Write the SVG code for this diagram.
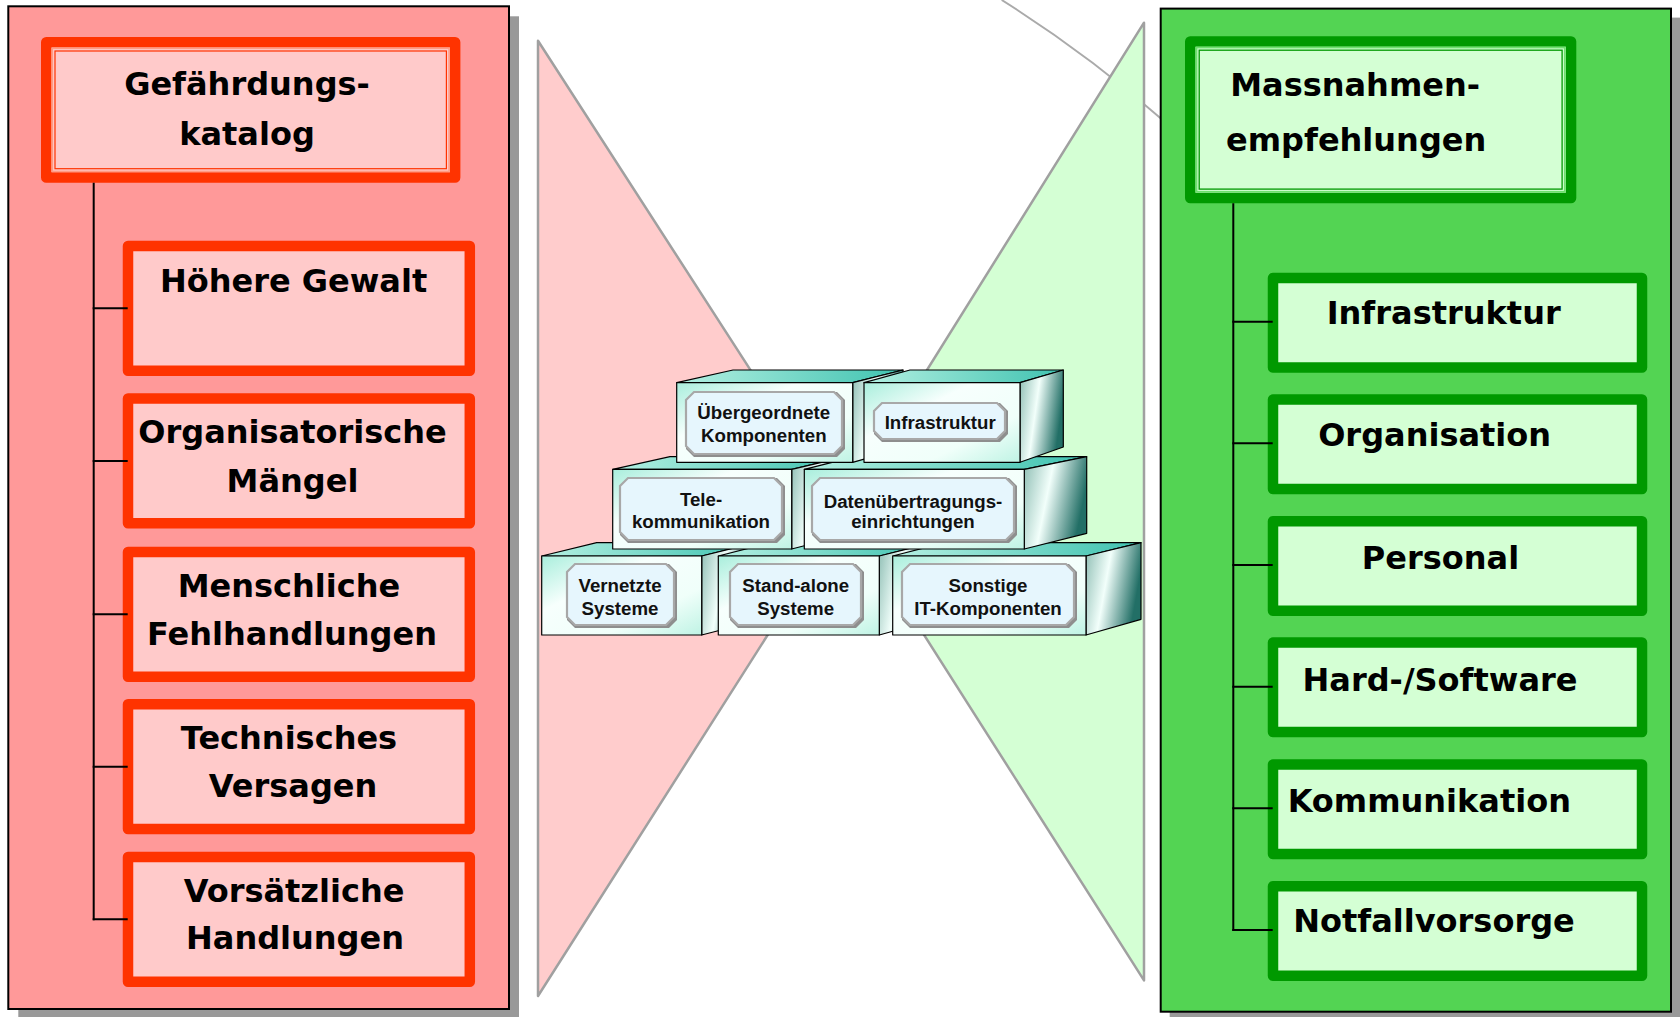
<svg xmlns="http://www.w3.org/2000/svg" width="1680" height="1017" viewBox="0 0 1680 1017">
<defs>
<style>
.big{font-family:"DejaVu Sans",Verdana,sans-serif;font-weight:bold;font-size:32px;fill:#000}
.small{font-family:"Liberation Sans",Arial,sans-serif;font-weight:bold;font-size:18.7px;fill:#111}
.redbox{fill:#FFCACA;stroke:#FF3300;stroke-width:10.5;stroke-linejoin:round}
.greenbox{fill:#D4FFD4;stroke:#009900;stroke-width:10.5;stroke-linejoin:round}
.conn{stroke:#000;stroke-width:2;fill:none}
.panel{stroke:#000;stroke-width:2}
.shadow{fill:#999}
.face{stroke:#000;stroke-width:1.2;stroke-linejoin:round}
.front{fill:url(#gFront)}
.top{fill:url(#gTop)}
.side{fill:url(#gSide)}
.lblsh{fill:#8E8E8E}
.lbl{fill:#E6F6FD;stroke:#A8A8A8;stroke-width:2.2}
</style>
<linearGradient id="gFront" x1="0" y1="0" x2="1" y2="1">
<stop offset="0" stop-color="#A9EEDC"/>
<stop offset="0.35" stop-color="#F7FFFD"/>
<stop offset="0.7" stop-color="#F0FFFA"/>
<stop offset="1" stop-color="#BFF3E4"/>
</linearGradient>
<linearGradient id="gTop" x1="0" y1="0" x2="1" y2="0">
<stop offset="0" stop-color="#B4F0E2"/>
<stop offset="1" stop-color="#3FC2B0"/>
</linearGradient>
<linearGradient id="gSide" x1="0" y1="0" x2="1" y2="0.3">
<stop offset="0" stop-color="#8DBDB3"/>
<stop offset="0.45" stop-color="#F2FFFB"/>
<stop offset="1" stop-color="#226F66"/>
</linearGradient>
</defs>
<rect width="1680" height="1017" fill="#FFFFFF"/>

<g id="background">
<polygon points="538,40.7 844,515 538,996" fill="#FFCCCC" stroke="#A0A0A0" stroke-width="2.5" stroke-linejoin="round"/>
<path d="M1001.7,0 A1272,1272 0 0 1 1165,122" fill="none" stroke="#AAAAAA" stroke-width="2"/>
<polygon points="1144,22.7 842,506 1144,980.4" fill="#D4FFD4" stroke="#A0A0A0" stroke-width="2.5" stroke-linejoin="round"/>
</g>

<g id="panel-left">
<rect class="shadow" x="18.3" y="16.3" width="500.7" height="1002.7"/>
<rect class="panel" x="8.3" y="6.3" width="500.7" height="1002.7" fill="#FF9999"/>
</g>

<g id="panel-right">
<rect class="shadow" x="1169.7" y="17.6" width="510.3" height="1003.1"/>
<rect class="panel" x="1160.7" y="8.6" width="510.3" height="1003.1" fill="#53D453"/>
</g>

<g id="node-gefaehrdungskatalog">
<rect class="redbox" x="46.25" y="42.25" width="408.9" height="135.2"/>
<rect x="52.3" y="48.3" width="396.8" height="123.1" fill="none" stroke="#FF9D85" stroke-width="1.6"/>
<rect x="55" y="51" width="391.4" height="117.7" fill="none" stroke="#FF3300" stroke-width="1.2"/>
<text class="big" x="247" y="94.7" text-anchor="middle">Gefährdungs-</text>
<text class="big" x="247" y="144.6" text-anchor="middle">katalog</text>
</g>

<g id="node-hoehere-gewalt">
<rect class="redbox" x="128" y="245.95" width="341.8" height="124.8"/>
<text class="big" x="293.6" y="291.7" text-anchor="middle">Höhere Gewalt</text>
</g>
<g id="node-organisatorische-maengel">
<rect class="redbox" x="128" y="398.55" width="341.8" height="124.8"/>
<text class="big" x="292.5" y="443.3" text-anchor="middle">Organisatorische</text>
<text class="big" x="292.5" y="491.7" text-anchor="middle">Mängel</text>
</g>
<g id="node-menschliche-fehlhandlungen">
<rect class="redbox" x="128" y="551.95" width="341.8" height="124.8"/>
<text class="big" x="289" y="597.3" text-anchor="middle">Menschliche</text>
<text class="big" x="292" y="645" text-anchor="middle">Fehlhandlungen</text>
</g>
<g id="node-technisches-versagen">
<rect class="redbox" x="128" y="704.25" width="341.8" height="124.8"/>
<text class="big" x="289" y="749.3" text-anchor="middle">Technisches</text>
<text class="big" x="293" y="796.7" text-anchor="middle">Versagen</text>
</g>
<g id="node-vorsaetzliche-handlungen">
<rect class="redbox" x="128" y="856.95" width="341.8" height="124.8"/>
<text class="big" x="294" y="902" text-anchor="middle">Vorsätzliche</text>
<text class="big" x="295" y="949.4" text-anchor="middle">Handlungen</text>
</g>

<g id="node-massnahmenempfehlungen">
<rect class="greenbox" x="1190.25" y="41.45" width="380.8" height="156.6"/>
<rect x="1196.5" y="47.5" width="368.3" height="144.3" fill="none" stroke="#6EE06E" stroke-width="1.8"/>
<rect x="1199.2" y="50.2" width="362.9" height="138.9" fill="none" stroke="#009900" stroke-width="1.3"/>
<text class="big" x="1230.2" y="95.5">Massnahmen-</text>
<text class="big" x="1226" y="150.5">empfehlungen</text>
</g>

<g id="node-infrastruktur">
<rect class="greenbox" x="1273" y="277.95" width="369" height="89.5"/>
<text class="big" x="1443.7" y="324" text-anchor="middle">Infrastruktur</text>
</g>
<g id="node-organisation">
<rect class="greenbox" x="1273" y="399.55" width="369" height="89.5"/>
<text class="big" x="1434.6" y="445.7" text-anchor="middle">Organisation</text>
</g>
<g id="node-personal">
<rect class="greenbox" x="1273" y="521.25" width="369" height="89.5"/>
<text class="big" x="1440.5" y="569" text-anchor="middle">Personal</text>
</g>
<g id="node-hard-software">
<rect class="greenbox" x="1273" y="642.55" width="369" height="89.5"/>
<text class="big" x="1440" y="690.7" text-anchor="middle">Hard-/Software</text>
</g>
<g id="node-kommunikation">
<rect class="greenbox" x="1273" y="764.55" width="369" height="89.5"/>
<text class="big" x="1429.3" y="811.7" text-anchor="middle">Kommunikation</text>
</g>
<g id="node-notfallvorsorge">
<rect class="greenbox" x="1273" y="886.25" width="369" height="89.5"/>
<text class="big" x="1434" y="932" text-anchor="middle">Notfallvorsorge</text>
</g>

<g id="connectors">
<path class="conn" d="M93.7,182.7 V920.3"/>
<path class="conn" d="M92.7,308.2 H127.7 M92.7,461 H127.7 M92.7,614.2 H127.7 M92.7,766.7 H127.7 M92.7,919.3 H127.7"/>
<path class="conn" d="M1233.3,203.3 V931"/>
<path class="conn" d="M1232.3,321.7 H1272.7 M1232.3,443.3 H1272.7 M1232.3,565 H1272.7 M1232.3,686.7 H1272.7 M1232.3,808.3 H1272.7 M1232.3,930 H1272.7"/>
</g>

<g id="it-components">
<g id="block-vernetzte-systeme">
<polygon class="face top" points="541.7,556 596.7,542.7 756,542.7 701.7,556"/>
<polygon class="face side" points="701.7,556 756,542.7 756,621 701.7,635"/>
<rect class="face front" x="541.7" y="556" width="160" height="79"/>
<polygon class="lblsh" points="575,564 669,564 677,572 677,620 669,628 575,628 567,620 567,572"/>
<polygon class="lbl" points="575,564 666,564 674,572 674,617 666,625 575,625 567,617 567,572"/>
<text class="small" x="620" y="592" text-anchor="middle">Vernetzte</text>
<text class="small" x="620" y="614.5" text-anchor="middle">Systeme</text>
</g>
<g id="block-stand-alone-systeme">
<polygon class="face top" points="718.3,556 771,542.7 933,542.7 879.3,556"/>
<polygon class="face side" points="879.3,556 933,542.7 933,620 879.3,635"/>
<rect class="face front" x="718.3" y="556" width="161" height="79"/>
<polygon class="lblsh" points="738,564 856,564 864,572 864,620 856,628 738,628 730,620 730,572"/>
<polygon class="lbl" points="738,564 853,564 861,572 861,617 853,625 738,625 730,617 730,572"/>
<text class="small" x="795.7" y="592" text-anchor="middle">Stand-alone</text>
<text class="small" x="795.7" y="614.5" text-anchor="middle">Systeme</text>
</g>
<g id="block-sonstige-it-komponenten">
<polygon class="face top" points="892.7,556 945,542.7 1141,542.7 1086,556"/>
<polygon class="face side" points="1086,556 1141,542.7 1141,619.3 1086,635"/>
<rect class="face front" x="892.7" y="556" width="193.3" height="79"/>
<polygon class="lblsh" points="910,564 1069,564 1077,572 1077,620 1069,628 910,628 902,620 902,572"/>
<polygon class="lbl" points="910,564 1066,564 1074,572 1074,617 1066,625 910,625 902,617 902,572"/>
<text class="small" x="988" y="592" text-anchor="middle">Sonstige</text>
<text class="small" x="988" y="614.5" text-anchor="middle">IT-Komponenten</text>
</g>
<g id="block-telekommunikation">
<polygon class="face top" points="612.7,469.3 670,456.7 846,456.7 791.7,469.3"/>
<polygon class="face side" points="791.7,469.3 846,456.7 846,535 791.7,549"/>
<rect class="face front" x="612.7" y="469.3" width="179" height="79.7"/>
<polygon class="lblsh" points="628,478 777,478 785,486 785,535 777,543 628,543 620,535 620,486"/>
<polygon class="lbl" points="628,478 774,478 782,486 782,532 774,540 628,540 620,532 620,486"/>
<text class="small" x="701" y="506" text-anchor="middle">Tele-</text>
<text class="small" x="701" y="528" text-anchor="middle">kommunikation</text>
</g>
<g id="block-datenuebertragungseinrichtungen">
<polygon class="face top" points="804.3,469.3 855,456.7 1086.7,456.7 1024.3,469.3"/>
<polygon class="face side" points="1024.3,469.3 1086.7,456.7 1086.7,533.3 1024.3,549"/>
<rect class="face front" x="804.3" y="469.3" width="220" height="79.7"/>
<polygon class="lblsh" points="820,478 1009,478 1017,486 1017,535 1009,543 820,543 812,535 812,486"/>
<polygon class="lbl" points="820,478 1006,478 1014,486 1014,532 1006,540 820,540 812,532 812,486"/>
<text class="small" x="913" y="507.7" text-anchor="middle">Datenübertragungs-</text>
<text class="small" x="913" y="528.3" text-anchor="middle">einrichtungen</text>
</g>
<g id="block-uebergeordnete-komponenten">
<polygon class="face top" points="676.7,382.7 733,370 903,370 852.7,382.7"/>
<polygon class="face side" points="852.7,382.7 903,370 903,448 852.7,462.3"/>
<rect class="face front" x="676.7" y="382.7" width="176" height="79.6"/>
<polygon class="lblsh" points="694,392 837,392 845,400 845,449 837,457 694,457 686,449 686,400"/>
<polygon class="lbl" points="694,392 834,392 842,400 842,446 834,454 694,454 686,446 686,400"/>
<text class="small" x="763.8" y="419.3" text-anchor="middle">Übergeordnete</text>
<text class="small" x="763.8" y="441.7" text-anchor="middle">Komponenten</text>
</g>
<g id="block-infrastruktur">
<polygon class="face top" points="864,382.7 910,370 1063.3,370 1020,382.7"/>
<polygon class="face side" points="1020,382.7 1063.3,370 1063.3,447 1020,462.3"/>
<rect class="face front" x="864" y="382.7" width="156" height="79.6"/>
<polygon class="lblsh" points="882,403 1000,403 1008,411 1008,434 1000,442 882,442 874,434 874,411"/>
<polygon class="lbl" points="882,403 997,403 1005,411 1005,431 997,439 882,439 874,431 874,411"/>
<text class="small" x="940.2" y="429.3" text-anchor="middle">Infrastruktur</text>
</g>
</g>
</svg>
